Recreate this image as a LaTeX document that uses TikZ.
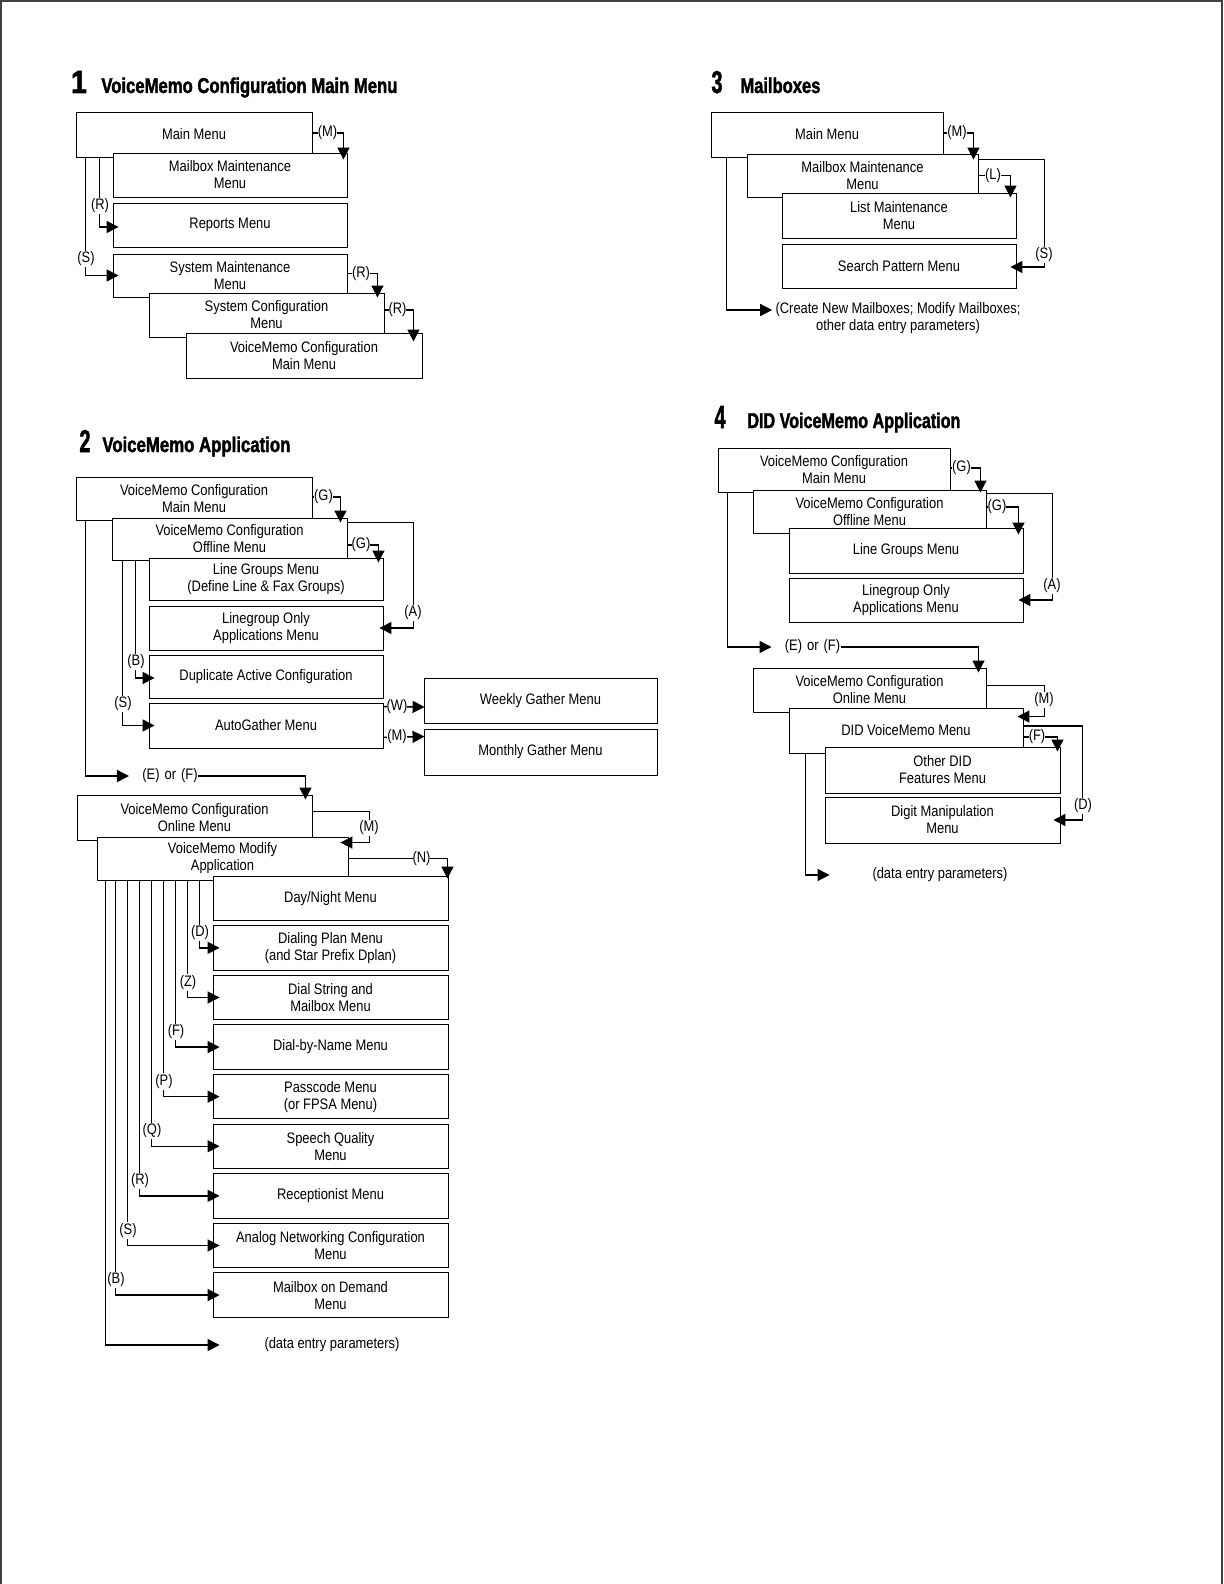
\documentclass[tikz,border=0pt]{standalone}
\usepackage{graphicx}
\usepackage{fontspec}
\setmainfont{Liberation Sans}[FakeStretch=0.85]
\newfontfamily\ttlfont{Liberation Sans Bold}[FakeBold=2]
\usetikzlibrary{arrows.meta,calc}
\newlength\pxu
\setlength\pxu{0.5pt}
\newcommand\MenuBox[6]{\node[menubox, minimum width={(#4-#2)*0.5pt}, minimum height={(#5-#3)*0.5pt}] (#1) at ({(#2+#4)/2},{(#3+#5)/2}) {#6};}
\begin{document}
\begin{tikzpicture}[x=0.5pt,y=-0.5pt,
  menubox/.style={draw, fill=white, line width=0.45pt, inner sep=0pt, align=center, font=\fontsize{7.6}{8.5}\selectfont},
  conn/.style={line width=0.7pt},
  arr/.style={conn, -{Triangle[length=6pt,width=6pt]}},
  lbl/.style={fill=white, inner xsep=0pt, inner ysep=0.5pt, font=\fontsize{7.6}{8.5}\selectfont},
  txt/.style={inner sep=0pt, align=center, font=\fontsize{7.6}{8.5}\selectfont},
  ttl/.style={inner sep=0pt, anchor=base west},
  num/.style={inner sep=0pt, anchor=base},
]
\useasboundingbox (0,0) rectangle (1223,1584);
\draw[line width=0.8pt, black!75] (1,1584) -- (1,1) -- (1222,1) -- (1222,1584);

% ---------------- Section 1
\node[num] (n1) at (79,93) {\resizebox{16\pxu}{22\pxu}{\ttlfont 1}};
\node[ttl] (t1) at (101,93) {\resizebox{296\pxu}{15.5\pxu}{\ttlfont VoiceMemo Configuration Main Menu}};
\MenuBox{mm1}{76}{112}{312}{157}{Main Menu}
\MenuBox{mb1}{113}{153}{347}{197}{Mailbox Maintenance\\Menu}
\MenuBox{rp1}{113}{203}{347}{247}{Reports Menu}
\MenuBox{sm1}{113}{254}{347}{297}{System Maintenance\\Menu}
\MenuBox{sc1}{149}{293}{384}{337}{System Configuration\\Menu}
\MenuBox{vm1}{186}{333}{422}{378}{VoiceMemo Configuration\\Main Menu}
\draw[arr] ($(mm1.east)+(0,-1.5)$) -| ($(mb1.north east)+(-4,7)$);
\draw[arr] ($(sm1.east)+(0,-2)$) -| ($(sc1.north east)+(-7,5)$);
\draw[arr] ($(sc1.east)+(0,-5)$) -| ($(vm1.north east)+(-9,9)$);
\draw[arr] ($(mm1.south west)+(24,0)$) |- ($(rp1.west)+(6,2)$);
\draw[arr] ($(mm1.south west)+(10,0)$) |- ($(sm1.west)+(6,0)$);
\node[lbl] (l1m) at (327.5,133) {(M)};
\node[lbl] (l1r1) at (361,273.5) {(R)};
\node[lbl] (l1r2) at (397.5,310) {(R)};
\node[lbl] (l1r3) at (100,206) {(R)};
\node[lbl] (l1s) at (86,259) {(S)};

% ---------------- Section 3
\node[num] (n3) at (717,93) {\resizebox{11\pxu}{22\pxu}{\ttlfont 3}};
\node[ttl] (t3) at (740,93) {\resizebox{80\pxu}{15.5\pxu}{\ttlfont Mailboxes}};
\MenuBox{mm3}{711}{112}{943}{157}{Main Menu}
\MenuBox{mb3}{747}{154}{978}{197}{Mailbox Maintenance\\Menu}
\MenuBox{lm3}{782}{193}{1016}{238}{List Maintenance\\Menu}
\MenuBox{sp3}{782}{244}{1016}{288}{Search Pattern Menu}
\node[txt] (de3) at (898,318.5) {(Create New Mailboxes; Modify Mailboxes;\\other data entry parameters)};
\draw[arr] ($(mm3.east)+(0,-1.5)$) -| ($(mb3.north east)+(-5,6)$);
\draw[arr] (mb3.east) -| ($(lm3.north east)+(-6,5)$);
\draw[arr] ($(mb3.north east)+(0,6)$) -- ++(66,0) |- ($(sp3.east)+(-6,1)$);
\draw[arr] ($(mm3.south west)+(16,0)$) |- ($(de3.west)+(-3,-8.5)$);
\node[lbl] (l3m) at (957,133) {(M)};
\node[lbl] (l3l) at (993,175.5) {(L)};
\node[lbl] (l3s) at (1044,255) {(S)};

% ---------------- Section 2 (upper)
\node[num] (n2) at (85,452) {\resizebox{11\pxu}{22\pxu}{\ttlfont 2}};
\node[ttl] (t2) at (102,452) {\resizebox{188\pxu}{15.5\pxu}{\ttlfont VoiceMemo Application}};
\MenuBox{vm2}{76}{477}{312}{520}{VoiceMemo Configuration\\Main Menu}
\MenuBox{of2}{112}{518}{347}{560}{VoiceMemo Configuration\\Offline Menu}
\MenuBox{lg2}{149}{558}{383}{600}{Line Groups Menu\\(Define Line \& Fax Groups)}
\MenuBox{lo2}{149}{606}{383}{650}{Linegroup Only\\Applications Menu}
\MenuBox{da2}{149}{655}{383}{698}{Duplicate Active Configuration}
\MenuBox{ag2}{149}{703}{383}{748}{AutoGather Menu}
\MenuBox{wg2}{424}{678}{657}{723}{Weekly Gather Menu}
\MenuBox{mg2}{424}{729}{657}{775}{Monthly Gather Menu}
\node[txt] (eof2) at (170,776) {(E)\hspace{5\pxu}or\hspace{5\pxu}(F)};
\draw[arr] ($(vm2.east)+(0,-1.5)$) -| ($(of2.north east)+(-7,5)$);
\draw[arr] ($(of2.east)+(0,6)$) -| ($(lg2.north east)+(-5,5)$);
\draw[arr] ($(of2.north east)+(0,5)$) -- ++(66,0) |- ($(lo2.east)+(-4,0)$);
\draw[arr] ($(of2.south west)+(24,0)$) |- ($(da2.west)+(6,1.5)$);
\draw[arr] ($(of2.south west)+(11,0)$) |- ($(ag2.west)+(6,0)$);
\draw[arr] ($(ag2.north east)+(0,4)$) -- ($(wg2.west)+(1,6.5)$);
\draw[arr] ($(ag2.south east)+(0,-11)$) -- ($(mg2.north west)+(1,8)$);
\draw[arr] ($(vm2.south west)+(10,0)$) |- ($(eof2.west)+(-13,0)$);
\node[lbl] (l2g1) at (323.5,497) {(G)};
\node[lbl] (l2g2) at (361,545) {(G)};
\node[lbl] (l2a) at (413,613) {(A)};
\node[lbl] (l2b) at (136,662) {(B)};
\node[lbl] (l2s) at (123,704) {(S)};
\node[lbl] (l2w) at (397,707) {(W)};
\node[lbl] (l2m) at (397,737) {(M)};

% ---------------- Section 2 (lower)
\MenuBox{on2}{77}{795}{312}{840}{VoiceMemo Configuration\\Online Menu}
\MenuBox{md2}{97}{837}{348}{880}{VoiceMemo Modify\\Application}
\MenuBox{dn2}{213}{876}{448}{920.5}{Day/Night Menu}
\MenuBox{dp2}{213}{925.6}{448}{970.1}{Dialing Plan Menu\\(and Star Prefix Dplan)}
\MenuBox{ds2}{213}{975.2}{448}{1019.7}{Dial String and\\Mailbox Menu}
\MenuBox{dbn2}{213}{1024.8}{448}{1069.3}{Dial-by-Name Menu}
\MenuBox{pc2}{213}{1074.4}{448}{1118.9}{Passcode Menu\\(or FPSA Menu)}
\MenuBox{sq2}{213}{1124}{448}{1168.5}{Speech Quality\\Menu}
\MenuBox{rc2}{213}{1173.6}{448}{1218.1}{Receptionist Menu}
\MenuBox{an2}{213}{1223.2}{448}{1267.7}{Analog Networking Configuration\\Menu}
\MenuBox{mod2}{213}{1272.8}{448}{1317.3}{Mailbox on Demand\\Menu}
\node[txt] (de2) at (332,1345) {(data entry parameters)};
\draw[arr] (eof2.east) -| ($(on2.north east)+(-7,5)$);
\draw[arr] ($(on2.north east)+(0,17)$) -- ++(57,0) |- ($(md2.north east)+(-8,6)$);
\draw[arr] (md2.east) -| ($(dn2.north east)+(-1,3)$);
\draw[arr] ($(md2.south west)+(103,0)$) |- ($(dp2.west)+(7,0)$);
\draw[arr] ($(md2.south west)+(91,0)$) |- ($(ds2.west)+(7,0)$);
\draw[arr] ($(md2.south west)+(79,0)$) |- ($(dbn2.west)+(7,0)$);
\draw[arr] ($(md2.south west)+(67,0)$) |- ($(pc2.west)+(7,0)$);
\draw[arr] ($(md2.south west)+(55,0)$) |- ($(sq2.west)+(7,0)$);
\draw[arr] ($(md2.south west)+(43,0)$) |- ($(rc2.west)+(7,0)$);
\draw[arr] ($(md2.south west)+(31,0)$) |- ($(an2.west)+(7,0)$);
\draw[arr] ($(md2.south west)+(19,0)$) |- ($(mod2.west)+(7,0)$);
\draw[arr] ($(md2.south west)+(9,0)$) |- ($(mod2.west |- de2.west)+(7,0)$);
\node[lbl] (l2m2) at (369,828) {(M)};
\node[lbl] (l2n) at (421.5,858.5) {(N)};
\node[lbl] (l2d) at (200,933) {(D)};
\node[lbl] (l2z) at (188,982.5) {(Z)};
\node[lbl] (l2f) at (176,1032) {(F)};
\node[lbl] (l2p) at (164,1081.5) {(P)};
\node[lbl] (l2q) at (152,1131) {(Q)};
\node[lbl] (l2r) at (140,1181) {(R)};
\node[lbl] (l2s2) at (128,1230.5) {(S)};
\node[lbl] (l2b2) at (116,1280) {(B)};

% ---------------- Section 4
\node[num] (n4) at (720,428) {\resizebox{11\pxu}{22\pxu}{\ttlfont 4}};
\node[ttl] (t4) at (747,428) {\resizebox{213\pxu}{15.5\pxu}{\ttlfont DID VoiceMemo Application}};
\MenuBox{vm4}{718}{448}{950}{492}{VoiceMemo Configuration\\Main Menu}
\MenuBox{of4}{753}{490}{986}{533}{VoiceMemo Configuration\\Offline Menu}
\MenuBox{lg4}{789}{528}{1023}{573}{Line Groups Menu}
\MenuBox{lo4}{789}{578}{1023}{622}{Linegroup Only\\Applications Menu}
\node[txt] (eof4) at (812.5,647) {(E)\hspace{5\pxu}or\hspace{5\pxu}(F)};
\MenuBox{on4}{753}{668}{986}{712}{VoiceMemo Configuration\\Online Menu}
\MenuBox{dv4}{789}{708}{1023}{753}{DID VoiceMemo Menu}
\MenuBox{od4}{825}{747}{1060}{793}{Other DID\\Features Menu}
\MenuBox{dm4}{825}{797}{1060}{843}{Digit Manipulation\\Menu}
\node[txt] (de4) at (940,875) {(data entry parameters)};
\draw[arr] ($(vm4.east)+(0,-2)$) -| ($(of4.north east)+(-6,3)$);
\draw[arr] ($(of4.east)+(0,-4.5)$) -| ($(lg4.north east)+(-5,7)$);
\draw[arr] ($(of4.north east)+(0,4)$) -- ++(66,0) |- ($(lo4.east)+(-5,0)$);
\draw[arr] ($(vm4.south west)+(10,0)$) |- ($(eof4.west)+(-13,0)$);
\draw[arr] (eof4.east) -| ($(on4.north east)+(-8,5)$);
\draw[arr] ($(on4.north east)+(0,18)$) -- ++(58,0) |- ($(dv4.north east)+(-6,9)$);
\draw[arr] ($(dv4.east)+(0,6.5)$) -| ($(od4.north east)+(-3,5)$);
\draw[arr] ($(dv4.east)+(0,-4.5)$) -- ++(59,0) |- ($(dm4.east)+(-7,0)$);
\draw[arr] ($(dv4.south west)+(17,0)$) |- ($(od4.west |- de4.west)+(5,0)$);
\node[lbl] (l4g1) at (961.5,468) {(G)};
\node[lbl] (l4g2) at (997,507) {(G)};
\node[lbl] (l4a) at (1052,586) {(A)};
\node[lbl] (l4m) at (1044,700) {(M)};
\node[lbl] (l4f) at (1037,737) {(F)};
\node[lbl] (l4d) at (1083,806) {(D)};
\end{tikzpicture}
\end{document}
